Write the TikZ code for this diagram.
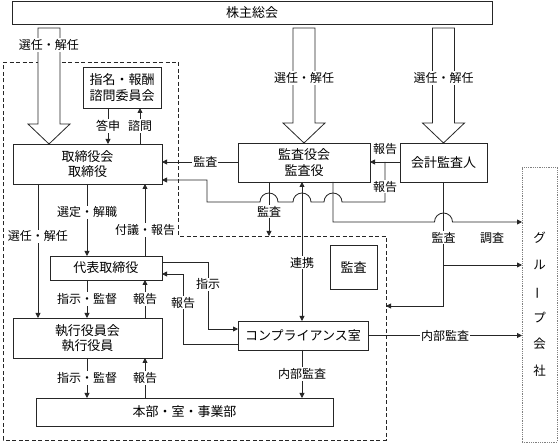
\documentclass[tikz,border=0pt]{standalone}
\usepackage{fontspec}
\setmainfont{Noto Sans CJK JP}
\usepackage{tikz}
\usetikzlibrary{arrows.meta,calc}
\tikzset{
  box/.style={draw,line width=0.8pt,inner sep=0,outer sep=0,align=center,font=\fontsize{13}{15.5}\selectfont},
  group box/.style={draw=gray,densely dotted,line width=0.8pt,inner sep=0,outer sep=0,align=center,font=\fontsize{12.5}{26.5}\selectfont},
  lbl/.style={fill=white,inner sep=1pt,font=\fontsize{12}{14}\selectfont},
  connect/.style={-{Triangle[length=5pt,width=5pt]}},
  link/.style={{Triangle[length=5pt,width=5pt]}-{Triangle[length=5pt,width=5pt]}},
  hollow/.style={draw,fill=white,line width=0.8pt},
  exec area/.style={dash pattern=on 4pt off 2.5pt,line width=0.8pt}
}

\begin{document}
\begin{tikzpicture}[x=1pt,y=-1pt,line width=0.8pt,draw=black!85]
    \useasboundingbox (0,0) rectangle (558,443);
    % Nodes
    \node[box,minimum width=480,minimum height=23] (GM) at (252,12.5) {株主総会};
    \node[box,minimum width=78,minimum height=41]  (NC) at (122,87.5) {指名・報酬\\諮問委員会};
    \node[box,minimum width=149,minimum height=40] (BD) at (87.5,164) {取締役会\\取締役};
    \node[box,minimum width=132,minimum height=39] (AB) at (304,162.5) {監査役会\\監査役};
    \node[box,minimum width=87,minimum height=39]  (AA) at (443.5,162.5) {会計監査人};
    \node[box,minimum width=112,minimum height=24] (RD) at (106,268) {代表取締役};
    \node[box,minimum width=149,minimum height=40] (EO) at (87.5,338) {執行役員会\\執行役員};
    \node[box,minimum width=297,minimum height=28] (DV) at (184.5,412) {本部・室・事業部};
    \node[box,minimum width=130,minimum height=29] (CO) at (303,335.5) {コンプライアンス室};
    \node[box,minimum width=47,minimum height=44]  (AU) at (353.5,267) {監査};
    \node[group box,minimum width=35,minimum height=275] (GC) at (539.5,304.5)
      {グ\\ル\\\rotatebox[origin=c]{90}{ー}\\プ\\会\\社};
    \coordinate (KD) at (269,236);
    \coordinate (KR) at (386,306);
    \coordinate (HK) at (385,162);
    % Area
    \draw[exec area] (3,62) -| (178,236) -| (386,440) -- (3,440) -- cycle;
    % Election arrows
    \foreach \tgt/\cx/\ly in {BD/49/45,AB/304/78,AA/443.5/78}{
      \path (GM.south -| \cx,0) ++(0,4) coordinate (top);
      \path (\tgt.north -| \cx,0) coordinate (tip);
      \draw[hollow] ($(top)+(-11,0)$) -- ($(tip)+(-11,-20)$) -- ($(tip)+(-21,-20)$) -- (tip)
        -- ($(tip)+(21,-20)$) -- ($(tip)+(11,-20)$) -- ($(top)+(11,0)$) -- cycle;
      \node[lbl] (E\tgt) at (\cx,\ly) {選任・解任};
    }
    % Connections
    \draw[connect] (NC.south -| 108,0) -- (BD.north -| 108,0) node[lbl,midway] {答申};
    \draw[connect] (BD.north -| 140,0) -- (NC.south -| 140,0) node[lbl,midway] {諮問};
    \draw[connect] (BD.south -| 87,0) -- (RD.north -| 87,0) node[lbl,pos=0.39] {選定・解職};
    \draw[connect] (RD.north -| 145,0) -- (BD.south -| 145,0) node[lbl,pos=0.36] {付議・報告};
    \draw[connect] (BD.south -| 38,0) -- (EO.north -| 38,0) node[lbl,pos=0.39] {選任・解任};
    \draw[connect] (RD.south -| 87,0) -- (EO.north -| 87,0) node[lbl,midway] {指示・監督};
    \draw[connect] (EO.north -| 145,0) -- (RD.south -| 145,0) node[lbl,midway] {報告};
    \draw[connect] (EO.south -| 87,0) -- (DV.north -| 87,0) node[lbl,midway] {指示・監督};
    \draw[connect] (DV.north -| 145,0) -- (EO.south -| 145,0) node[lbl,midway] {報告};
    % Audit
    \draw[connect] (AB.west |- HK) -- (BD.east |- HK) node[lbl,pos=0.43] {監査};
    \draw[connect] (AA.west |- HK) -- (AB.east |- HK) node[lbl,above=6pt,midway] {報告};
    \draw[connect] (HK) -- (385,202) node[lbl,pos=0.62] {報告}
      -- (342,202) arc[start angle=0,end angle=-180,radius=9]
      -- (311,202) arc[start angle=0,end angle=-180,radius=9]
      -- (278,202) arc[start angle=0,end angle=-180,radius=9]
      -- (207,202) -- (207,180) -- (BD.east |- 0,180);
    \draw[connect] (AB.south -| KD) -- (KD) node[lbl,pos=0.55] {監査};
    \draw[link] (CO.north -| 302,0) -- (AB.south -| 302,0) node[lbl,pos=0.42] {連携};
    \draw[connect] (AB.south -| 333,0) -- (333,222) -- (434.5,222)
      arc[start angle=180,end angle=360,radius=9] -- (GC.west |- 0,222);
    \draw[connect] (AA.south) -- (AA.south |- KR) node[lbl,pos=0.45] {監査} -- (KR);
    \draw[connect] (AA.south |- 0,265) -- (GC.west |- 0,265);
    \node[font=\fontsize{12}{14}\selectfont] (SV) at (492,238) {調査};
    % Compliance
    \draw[connect] (RD.east |- 0,262) -- (208,262) -- (208,329) node[lbl,pos=0.33] {指示} -- (CO.west |- 0,329);
    \draw[connect] (CO.west |- 0,344) -- (183,344) -- (183,274) node[lbl,pos=0.59] {報告} -- (RD.east |- 0,274);
    \draw[connect] (CO.east) -- (GC.west |- CO.east) node[lbl,midway] {内部監査};
    \draw[connect] (CO.south -| 302,0) -- (DV.north -| 302,0) node[lbl,midway] {内部監査};
  \end{tikzpicture}
\end{document}
